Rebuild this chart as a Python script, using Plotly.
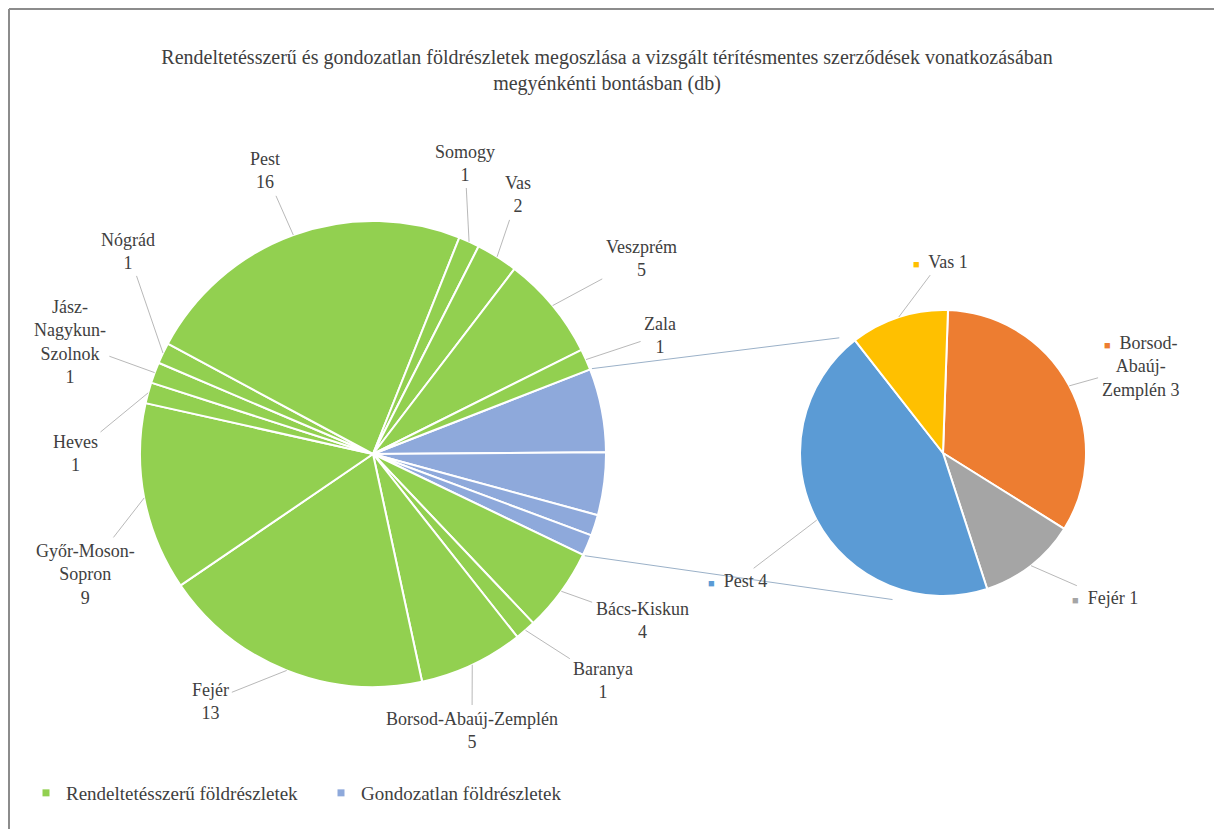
import math
import plotly.graph_objects as go

# ---------------- data ----------------
green_labels = ["Bács-Kiskun", "Baranya", "Borsod-Abaúj-Zemplén", "Fejér", "Győr-Moson-Sopron",
                "Heves", "Jász-Nagykun-Szolnok", "Nógrád", "Pest", "Somogy", "Vas", "Veszprém", "Zala"]
green_values = [4, 1, 5, 13, 9, 1, 1, 1, 16, 1, 2, 5, 1]
blue_labels = ["Pest", "Borsod-Abaúj-Zemplén", "Fejér", "Vas"]
blue_values = [4, 3, 1, 1]
series_names = ["Rendeltetésszerű földrészletek", "Gondozatlan földrészletek"]
title_text = ("Rendeltetésszerű és gondozatlan földrészletek megoszlása a vizsgált térítésmentes szerződések vonatkozásában"
              "<br>megyénkénti bontásban (db)")

# ---------------- layout / style ----------------
W, H = 1214, 829
FONT = "'Liberation Serif', 'Times New Roman', 'DejaVu Serif', serif"
TXT = "#404040"
GREEN = "#92D050"
BLUE_MAIN = "#8EA9DB"
SEC_COLORS = {"Borsod-Abaúj-Zemplén": "#ED7D31", "Fejér": "#A5A5A5", "Pest": "#5B9BD5", "Vas": "#FFC000"}
FS = 18

MAIN_C, MAIN_R, MAIN_ROT = (373, 454), 233, 68.7
SEC_C, SEC_R, SEC_ROT = (943, 453), 143, 2.0

# text label positions (pixel centres)
main_label_pos = {
    "Pest": (265, 171), "Somogy": (465, 163), "Vas": (518, 195),
    "Veszprém": (641, 258), "Zala": (660, 335), "Bács-Kiskun": (642, 620),
    "Baranya": (603, 680), "Borsod-Abaúj-Zemplén": (472, 730), "Fejér": (210, 701),
    "Győr-Moson-Sopron": (85, 574), "Heves": (75, 453),
    "Jász-Nagykun-Szolnok": (70, 342), "Nógrád": (128, 251),
}
main_label_text = {
    "Győr-Moson-Sopron": "Győr-Moson-<br>Sopron",
    "Jász-Nagykun-Szolnok": "Jász-<br>Nagykun-<br>Szolnok",
}
sec_label_pos = {"Vas": (940, 262), "Borsod-Abaúj-Zemplén": (1140, 366), "Pest": (737, 581), "Fejér": (1105, 598)}
sec_label_text = {"Borsod-Abaúj-Zemplén": "Borsod-<br>Abaúj-<br>Zemplén"}
connector_sec_angles = (318, 199)


def domain(c, r):
    return dict(x=[(c[0] - r) / W, (c[0] + r) / W], y=[1 - (c[1] + r) / H, 1 - (c[1] - r) / H])


def pt(c, r, ang):
    a = math.radians(ang)
    return c[0] + r * math.sin(a), c[1] - r * math.cos(a)


def to_paper(p):
    return p[0] / W, 1 - p[1] / H


main_vals = blue_values + green_values
main_cols = [BLUE_MAIN] * len(blue_values) + [GREEN] * len(green_values)
main_total = sum(main_vals)

sec_order = sorted(range(len(blue_labels)), key=lambda i: blue_labels[i])
sec_labels = [blue_labels[i] for i in sec_order]
sec_values = [blue_values[i] for i in sec_order]
sec_total = sum(sec_values)

fig = go.Figure()
fig.add_trace(go.Pie(
    values=main_vals, labels=[f"b{i}" for i in range(len(blue_values))] + green_labels,
    sort=False, direction="clockwise", rotation=MAIN_ROT,
    marker=dict(colors=main_cols, line=dict(color="white", width=2)),
    textinfo="none", hoverinfo="skip", showlegend=False, domain=domain(MAIN_C, MAIN_R)))
fig.add_trace(go.Pie(
    values=sec_values, labels=sec_labels,
    sort=False, direction="clockwise", rotation=SEC_ROT,
    marker=dict(colors=[SEC_COLORS[l] for l in sec_labels], line=dict(color="white", width=2)),
    textinfo="none", hoverinfo="skip", showlegend=False, domain=domain(SEC_C, SEC_R)))

# legend entries
for name, col in zip(series_names, [GREEN, BLUE_MAIN]):
    fig.add_trace(go.Scatter(x=[None], y=[None], mode="markers", name=name,
                             marker=dict(symbol="square", size=7, color=col)))

annotations = []
green_start = MAIN_ROT + sum(blue_values) / main_total * 360
ang = green_start
for lab, v in zip(green_labels, green_values):
    span = v / main_total * 360
    mid = ang + span / 2
    ang += span
    tip = pt(MAIN_C, MAIN_R, mid)
    lp = main_label_pos[lab]
    txt = f"{main_label_text.get(lab, lab)}<br>{v}"
    tx, ty = to_paper(tip)
    annotations.append(dict(x=tx, y=ty, xref="paper", yref="paper", text=txt,
                            ax=lp[0] - tip[0], ay=lp[1] - tip[1], showarrow=True, arrowhead=0,
                            arrowwidth=0.8, arrowcolor="#A6A6A6", standoff=0, startstandoff=2,
                            font=dict(family=FONT, size=FS, color=TXT), align="center"))

ang = SEC_ROT
for lab, v in zip(sec_labels, sec_values):
    span = v / sec_total * 360
    mid = ang + span / 2
    ang += span
    tip = pt(SEC_C, SEC_R, mid)
    lp = sec_label_pos[lab]
    t = sec_label_text.get(lab, lab)
    sq = f"<span style='color:{SEC_COLORS[lab]};font-size:11px'>■</span>  "
    txt = sq + f"{t} {v}"
    tx, ty = to_paper(tip)
    annotations.append(dict(x=tx, y=ty, xref="paper", yref="paper", text=txt,
                            ax=lp[0] - tip[0], ay=lp[1] - tip[1], showarrow=True, arrowhead=0,
                            arrowwidth=0.8, arrowcolor="#A6A6A6", standoff=0, startstandoff=2,
                            font=dict(family=FONT, size=FS, color=TXT), align="center"))

blue_top = MAIN_ROT
blue_bot = MAIN_ROT + sum(blue_values) / main_total * 360
shapes = []
for a_main, a_sec in zip((blue_top, blue_bot), connector_sec_angles):
    p1 = to_paper(pt(MAIN_C, MAIN_R + 2, a_main))
    p2 = to_paper(pt(SEC_C, SEC_R + 12, a_sec))
    shapes.append(dict(type="line", xref="paper", yref="paper", x0=p1[0], y0=p1[1], x1=p2[0], y1=p2[1],
                       line=dict(color="#9BB1C8", width=1)))
# outer frame (top and left edges visible)
frame_col = "#8C8C8C"
shapes.append(dict(type="line", xref="paper", yref="paper", x0=9 / W, x1=1.0, y0=1 - 9 / H, y1=1 - 9 / H,
                   line=dict(color=frame_col, width=2), layer="above"))
shapes.append(dict(type="line", xref="paper", yref="paper", x0=9 / W, x1=9 / W, y0=0.0, y1=1 - 9 / H,
                   line=dict(color=frame_col, width=2), layer="above"))

fig.update_layout(
    width=W, height=H, margin=dict(l=0, r=0, t=0, b=0),
    paper_bgcolor="white", plot_bgcolor="white",
    font=dict(family=FONT, size=FS, color=TXT),
    title=dict(text=title_text, x=0.5, xanchor="center", y=1 - 64 / H, yanchor="middle",
               font=dict(family=FONT, size=20, color=TXT)),
    xaxis=dict(visible=False), yaxis=dict(visible=False),
    legend=dict(orientation="h", x=26 / W, y=1 - 793 / H, xanchor="left", yanchor="middle",
                font=dict(family=FONT, size=19, color=TXT), itemwidth=30, entrywidth=250,
                bgcolor="rgba(0,0,0,0)"),
    annotations=annotations, shapes=shapes,
)

fig.write_html("out.html", config={"displayModeBar": False},
               post_script="document.body.style.margin='0';document.body.style.padding='0';")
